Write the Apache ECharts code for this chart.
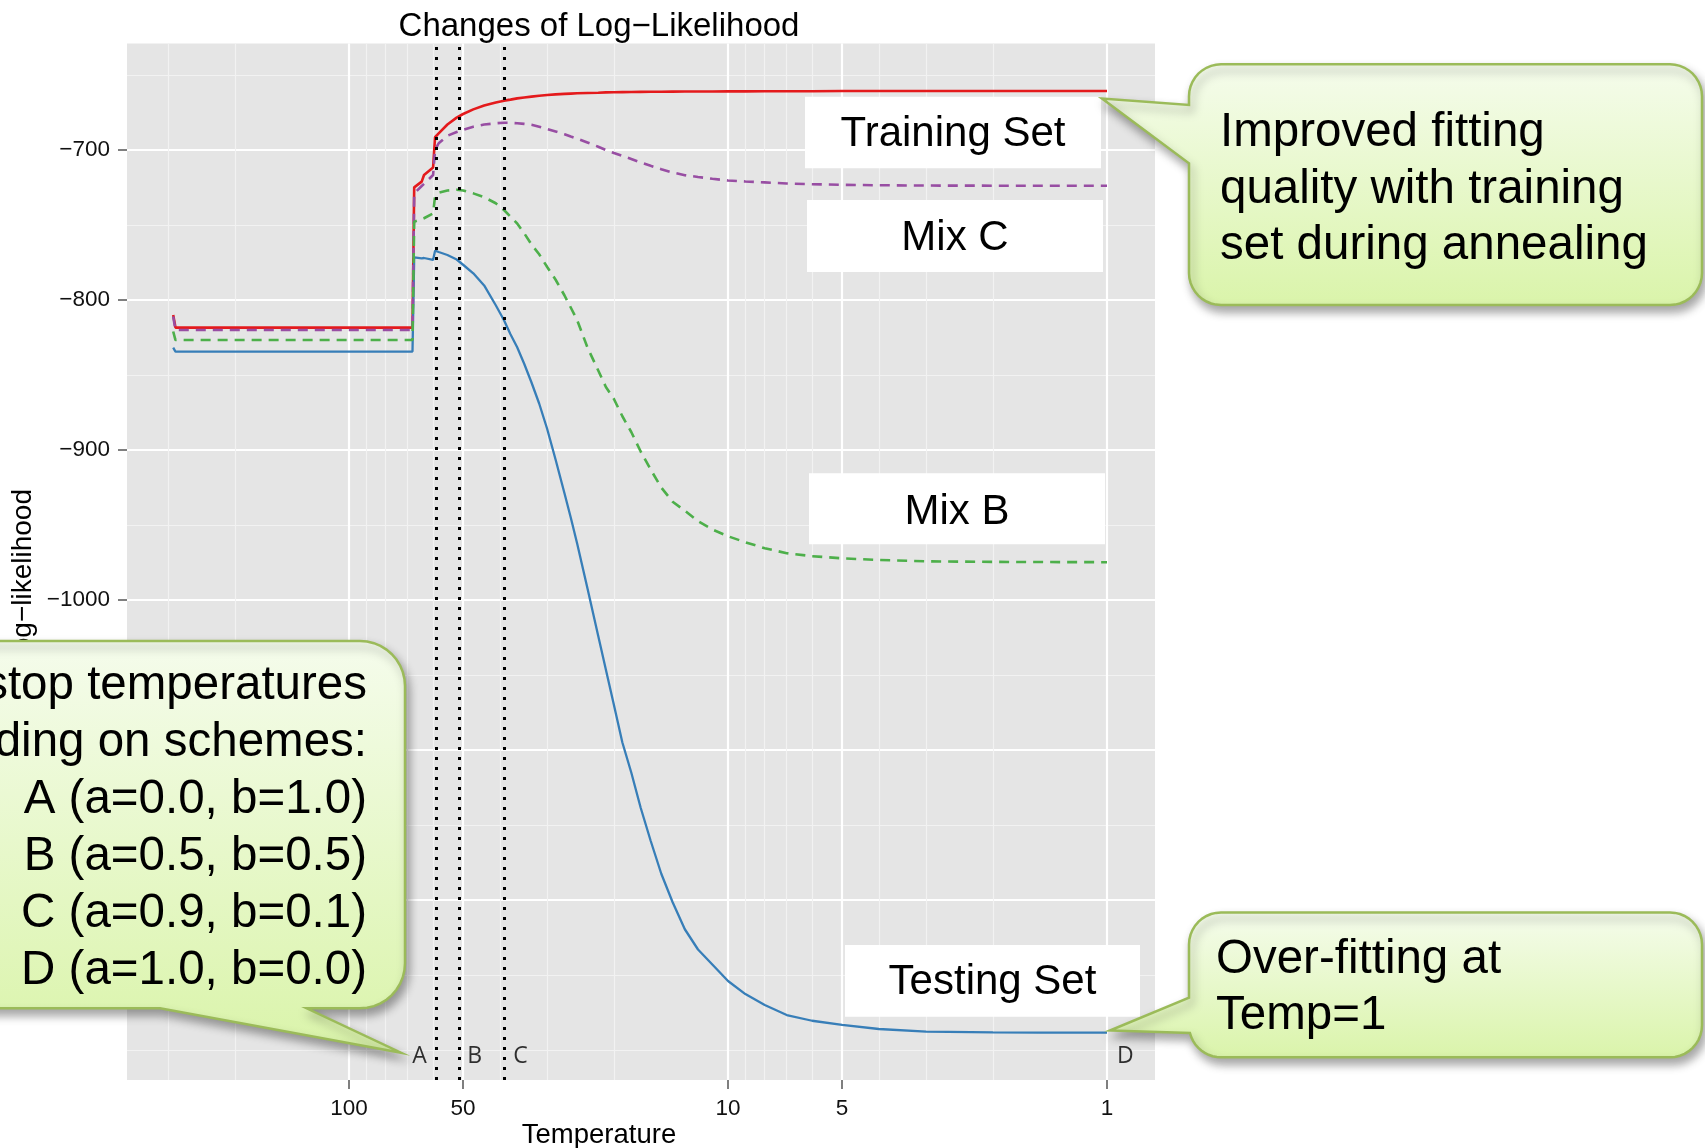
<!DOCTYPE html>
<html><head><meta charset="utf-8">
<script src="https://cdn.jsdelivr.net/npm/echarts@6/dist/echarts.min.js"></script>
<style>html,body{margin:0;padding:0;background:#fff;}#c{width:1705px;height:1148px;}</style>
</head><body><div id="c"></div>
<script>
// ---- data ----
const temperature = [291, 287, 250, 200, 150, 100, 80, 68, 67.3, 64.3, 63.4, 60, 59.3, 58, 55, 52, 50, 47, 44, 41, 39, 37.5, 36, 34.5, 33, 31.5, 30, 28.5, 27, 26, 25, 23.5, 22, 21, 20, 19, 18, 17, 16, 15, 14, 13, 12, 11, 10, 9, 8, 7, 6, 5, 4, 3, 2, 1.5, 1];
const trainingSet = [-810, -818.4, -818.4, -818.4, -818.4, -818.4, -818.4, -818.4, -724.9, -721.1, -716.7, -711.6, -691.5, -688.9, -683, -678.4, -676, -672.9, -670.3, -668.3, -667.1, -666.4, -665.6, -665, -664.4, -663.8, -663.3, -662.9, -662.6, -662.4, -662.2, -662, -661.8, -661.6, -661.5, -661.4, -661.3, -661.25, -661.2, -661.15, -661.1, -661.05, -661, -661, -660.9, -660.9, -660.8, -660.8, -660.8, -660.7, -660.7, -660.7, -660.7, -660.7, -660.7];
const mixC = [-811, -820, -820, -820, -820, -820, -820, -820, -728.9, -724, -722.6, -716.7, -700, -695.5, -690.5, -688, -686.5, -684.5, -683, -682.2, -681.8, -681.9, -682.2, -682.6, -683.2, -684.5, -686, -687.7, -689.5, -691, -692.5, -695, -697.8, -700, -702, -704, -706, -708.3, -710.5, -712.8, -715, -716.8, -718, -719.2, -720.3, -721, -721.6, -722.3, -722.8, -723.2, -723.5, -723.7, -723.8, -723.8, -723.8];
const mixB = [-821, -826.7, -826.7, -826.7, -826.7, -826.7, -826.7, -826.7, -747.8, -746.2, -745.5, -742.2, -731, -728.5, -727, -726.5, -727, -728.9, -731.5, -735.5, -740, -744.5, -749, -755.5, -763, -769.5, -778, -786.5, -797, -805, -813.5, -831.5, -847, -858, -866, -877.5, -888, -901, -913, -925, -934.5, -940.5, -947.5, -953, -957.5, -961.5, -965.5, -968.8, -970.8, -972.2, -973.3, -974.2, -974.6, -974.7, -974.8];
const testingSet = [-831.8, -834.4, -834.4, -834.4, -834.4, -834.4, -834.4, -834.4, -771.6, -772.3, -772, -773.3, -767.1, -768, -770, -773, -776.5, -782.2, -790.3, -803.5, -813.5, -822.8, -831.5, -842.5, -855, -869, -886, -906.5, -929, -945, -962.5, -992, -1024, -1046.5, -1070, -1095, -1115, -1138.5, -1160.5, -1182.5, -1201.5, -1219.5, -1233, -1243, -1254, -1262.7, -1270, -1276.7, -1280.5, -1283.3, -1286, -1287.8, -1288.3, -1288.4, -1288.4];
const xMajorTicks = [1, 5, 10, 50, 100];
const xMinorTicks = [2, 3, 4, 6, 7, 8, 9, 20, 30, 40, 60, 70, 80, 90, 200, 300];
const yMajorTicks = [-1200, -1100, -1000, -900, -800, -700];
const yMinorTicks = [-1300, -1250, -1150, -1050, -950, -850, -750, -650];
const stopNames = ['A', 'B', 'C', 'D'];
const stopTemps = [58.7, 51.8, 39.2, 1];
const stopLineNames = ['A', 'B', 'C'];
const labelLevel = -1304.5;

// ---- helpers ----
const lg = t => Math.log10(t);
const pts = vals => temperature.map((t, i) => [lg(t), vals[i]]);
const xMin = -0.1266, xMax = 2.5858, yMin = -1320, yMax = -629;
const FONT = 'Liberation Sans, Arial, Helvetica, sans-serif';

function calloutPts(x, y, w, h, r, ptr) {
  const P = [];
  const arc = (cx, cy, a0, a1) => {
    for (let k = 0; k <= 10; k++) {
      const a = (a0 + (a1 - a0) * k / 10) * Math.PI / 180;
      P.push([cx + r * Math.cos(a), cy + r * Math.sin(a)]);
    }
  };
  arc(x + w - r, y + r, -90, 0);
  arc(x + w - r, y + h - r, 0, 90);
  if (ptr.side === 'bottom') P.push([ptr.b2, y + h], ptr.tip, [ptr.b1, y + h]);
  if (ptr.side === 'left' && ptr.b2 > y + h - r) {
    const aEnd = 180 - Math.asin((ptr.b2 - (y + h - r)) / r) * 180 / Math.PI;
    arc(x + r, y + h - r, 90, aEnd);
    P.push(ptr.tip, [x, ptr.b1]);
  } else {
    arc(x + r, y + h - r, 90, 180);
    if (ptr.side === 'left') P.push([x, ptr.b2], ptr.tip, [x, ptr.b1]);
  }
  arc(x + r, y + r, 180, 270);
  return P;
}
const calloutFill = () => new echarts.graphic.LinearGradient(0, 0, 0, 1, [
  {offset: 0, color: '#F5FCEC'}, {offset: 1, color: '#DAF4AA'}]);
const calloutStyle = () => ({
  fill: calloutFill(), stroke: '#9BBB59', lineWidth: 2.5,
  shadowBlur: 10, shadowOffsetX: 3, shadowOffsetY: 6, shadowColor: 'rgba(0,0,0,0.35)'
});
function labelBox(x, y, w, h, text, cy) {
  return [
    {type: 'rect', z: 50, shape: {x, y, width: w, height: h}, style: {fill: '#fff'}},
    {type: 'text', z: 51, x: x + w / 2, y: cy, style: {text, fontSize: 42, fontFamily: FONT, fill: '#000', align: 'center', verticalAlign: 'middle'}}
  ];
}

const chart = echarts.init(document.getElementById('c'), null, {renderer: 'canvas'});
const axisCommon = {type: 'value', axisLine: {show: false, onZero: false}, minorTick: {show: false}, minorSplitLine: {show: false}};

const option = {
  animation: false,
  backgroundColor: '#fff',
  grid: {left: 127, top: 43.5, width: 1028, height: 1036.5, show: true, backgroundColor: '#E5E5E5', borderWidth: 0, containLabel: false, outerBoundsMode: 'none'},
  xAxis: [
    Object.assign({}, axisCommon, {
      min: xMin, max: xMax, inverse: true, position: 'bottom',
      axisTick: {show: true, length: 9, lineStyle: {color: '#7f7f7f', width: 2}, customValues: xMajorTicks.map(lg)},
      axisLabel: {customValues: xMajorTicks.map(lg), formatter: v => String(Math.round(Math.pow(10, v))), fontSize: 22.5, color: '#111', margin: 17, fontFamily: FONT},
      splitLine: {show: true, lineStyle: {color: '#ffffff', width: 2.2}}
    }),
    Object.assign({}, axisCommon, {
      min: xMin, max: xMax, inverse: true, position: 'bottom',
      axisTick: {show: false, customValues: xMinorTicks.map(lg)},
      axisLabel: {show: false},
      splitLine: {show: true, lineStyle: {color: '#F2F2F2', width: 1.1}}
    })
  ],
  yAxis: [
    Object.assign({}, axisCommon, {
      min: yMin, max: yMax, position: 'left',
      axisTick: {show: true, length: 9, lineStyle: {color: '#7f7f7f', width: 2}, customValues: yMajorTicks},
      axisLabel: {customValues: yMajorTicks, formatter: v => (v < 0 ? '\u2212' : '') + Math.abs(v), fontSize: 22.5, color: '#111', margin: 17, fontFamily: FONT},
      splitLine: {show: true, lineStyle: {color: '#ffffff', width: 2.2}}
    }),
    Object.assign({}, axisCommon, {
      min: yMin, max: yMax, position: 'left',
      axisTick: {show: false, customValues: yMinorTicks},
      axisLabel: {show: false},
      splitLine: {show: true, lineStyle: {color: '#F2F2F2', width: 1.1}}
    })
  ],
  series: [
    {name: 'Training Set', type: 'line', data: pts(trainingSet), showSymbol: false, symbol: 'none',
     lineStyle: {color: '#E41A1C', width: 2.6}, z: 3,
     markLine: {silent: true, symbol: ['none', 'none'], label: {show: false},
       lineStyle: {color: '#000', width: 3, type: [3, 7]},
       data: stopLineNames.map((n, i) => ({name: n, xAxis: lg(stopTemps[i])}))}},
    {name: 'Testing Set', type: 'line', data: pts(testingSet), showSymbol: false, symbol: 'none',
     lineStyle: {color: '#377EB8', width: 2.3}, z: 3},
    {name: 'Mix C', type: 'line', data: pts(mixC), showSymbol: false, symbol: 'none',
     lineStyle: {color: '#984EA3', width: 2.6, type: [10, 7]}, z: 3},
    {name: 'Mix B', type: 'line', data: pts(mixB), showSymbol: false, symbol: 'none',
     lineStyle: {color: '#4DAF4A', width: 2.6, type: [10, 7]}, z: 3},
    {name: 'stops', type: 'scatter', symbolSize: 1, itemStyle: {color: 'rgba(0,0,0,0)'}, silent: true, z: 4,
     data: stopNames.map((n, i) => ({name: n, value: [lg(stopTemps[i]), labelLevel],
       label: {show: true, position: n === 'A' ? 'left' : 'right', distance: 9.5, formatter: '{b}',
         fontSize: 23, fontFamily: 'Open Sans, Noto Sans, sans-serif', color: '#000'}}))}
  ],
  graphic: [
    {type: 'text', z: 60, x: 599, y: 26.5, style: {text: 'Changes of Log\u2212Likelihood', fontSize: 33, fontFamily: FONT, fill: '#000', align: 'center', verticalAlign: 'middle'}},
    {type: 'text', z: 60, x: 599, y: 1135, style: {text: 'Temperature', fontSize: 27.5, fontFamily: FONT, fill: '#000', align: 'center', verticalAlign: 'middle'}},
    {type: 'text', z: 60, x: 23, y: 489, rotation: Math.PI / 2, style: {text: 'Log\u2212likelihood', fontSize: 28, fontFamily: FONT, fill: '#000', align: 'right', verticalAlign: 'middle'}},
    ...labelBox(805, 96.7, 296, 71.6, 'Training Set', 134.5),
    ...labelBox(807, 200, 296, 72, 'Mix C', 238),
    ...labelBox(809, 473.3, 296, 71, 'Mix B', 512.3),
    ...labelBox(845, 945, 295, 71.7, 'Testing Set', 982.7),
    {type: 'polygon', z: 100, shape: {points: calloutPts(1189, 64.3, 513, 240.7, 32, {side: 'left', b1: 105, b2: 163.3, tip: [1102, 98.5]})}, style: calloutStyle()},
    {type: 'text', z: 101, x: 1220, y: 189.5, style: {text: 'Improved fitting\nquality with training\nset during annealing', fontSize: 47.5, lineHeight: 56.5, fontFamily: FONT, fill: '#000', align: 'left', verticalAlign: 'middle'}},
    {type: 'polygon', z: 100, shape: {points: calloutPts(1189, 912.5, 513, 144.8, 32, {side: 'left', b1: 997.7, b2: 1033, tip: [1110, 1030.5]})}, style: calloutStyle()},
    {type: 'text', z: 101, x: 1216, y: 987.8, style: {text: 'Over-fitting at\nTemp=1', fontSize: 47.5, lineHeight: 55.5, fontFamily: FONT, fill: '#000', align: 'left', verticalAlign: 'middle'}},
    {type: 'polygon', z: 100, shape: {points: calloutPts(-60, 641, 465, 367.3, 45, {side: 'bottom', b1: 160, b2: 306.7, tip: [401, 1052.7]})}, style: calloutStyle()},
    {type: 'text', z: 101, x: 367, y: 828.7, style: {text: 'stop temperatures\nding on schemes:\nA (a=0.0, b=1.0)\nB (a=0.5, b=0.5)\nC (a=0.9, b=0.1)\nD (a=1.0, b=0.0)', fontSize: 47.5, lineHeight: 57, fontFamily: FONT, fill: '#000', align: 'right', verticalAlign: 'middle'}}
  ]
};
chart.setOption(option);
</script></body></html>
